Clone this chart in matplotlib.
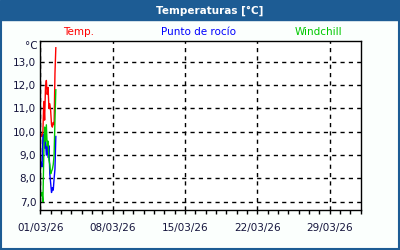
import datetime as dt
import matplotlib
matplotlib.use("Agg")
import matplotlib.pyplot as plt
import matplotlib.dates as mdates
from matplotlib.ticker import FixedLocator
from matplotlib.patches import Rectangle

# hours since 01/03/26 00:00
HOURS = [0, 2, 4, 6, 8, 10, 12, 14, 16, 18, 20, 22, 24, 26, 28, 30, 32, 34, 36]
TEMP = [9.8, 9.9, 9.8, 10.0, 11.3, 10.5, 11.9, 12.2, 11.6, 11.9, 11.0, 11.2,
        10.9, 10.3, 10.2, 10.4, 10.3, 12.5, 13.6]
DEW = [8.6, 8.7, 8.5, 9.8, 9.9, 9.3, 9.6, 9.0, 9.4, 8.9, 9.4, 8.2,
       7.8, 7.4, 7.6, 7.5, 8.0, 8.4, 9.8]
WCHILL = [7.2, 7.3, 7.4, 7.0, 9.0, 10.2, 9.6, 10.3, 9.4, 9.6, 8.8, 8.6,
          8.2, 8.3, 8.4, 8.6, 9.0, 10.5, 11.8]
SERIES = ["Temp.", "Punto de rocío", "Windchill"]
COLORS = ["#ff0000", "#0000ff", "#00c800"]
YTICKS = [7, 8, 9, 10, 11, 12, 13]
MAJOR_DAYS = [1, 8, 15, 22, 29]

FRAME = "#1d5c94"
TXT = "#14143c"
start = dt.datetime(2026, 3, 1)
t = [start + dt.timedelta(hours=h) for h in HOURS]

fig = plt.figure(figsize=(4, 2.5), dpi=100, facecolor="#fbfffd")
fig.patches.append(Rectangle((0, 0.92), 1, 0.08, transform=fig.transFigure,
                             color=FRAME, zorder=0))
fig.patches.append(Rectangle((0.0025, 0.004), 0.995, 0.92, transform=fig.transFigure,
                             fill=False, ec=FRAME, lw=1.5, zorder=0))
fig.text(0.525, 0.958, "Temperaturas [°C]", color="white", fontsize=7.5,
         fontweight="bold", ha="center", va="center")

ax = fig.add_axes([0.1008, 0.16, 0.801, 0.677])
ax.set_facecolor("white")
for vals, c in zip([TEMP, DEW, WCHILL], COLORS):
    ax.plot(t, vals, color=c, lw=1.0)

ax.set_xlim(start, start + dt.timedelta(days=31))
ax.set_ylim(6.65, 13.9)
ax.set_yticks(YTICKS)
ax.set_yticklabels([f"{v:.1f}".replace(".", ",") for v in YTICKS])
ax.xaxis.set_major_locator(FixedLocator(
    [mdates.date2num(dt.datetime(2026, 3, d)) for d in MAJOR_DAYS]))
ax.xaxis.set_major_formatter(mdates.DateFormatter("%d/%m/%y"))
ax.xaxis.set_minor_locator(mdates.DayLocator())
ax.tick_params(axis="x", which="both", direction="out", length=3, width=1,
               colors="black", labelcolor=TXT, labelsize=7.5, pad=6)
ax.tick_params(axis="y", length=0, labelcolor=TXT, labelsize=7.5, pad=3)
ax.grid(True, which="major", color="black", ls=(0, (3, 3)), lw=1.0)
for s in ax.spines.values():
    s.set_color("black")
    s.set_linewidth(1.0)

fig.text(0.078, 0.815, "°C", color=TXT, fontsize=7.5, ha="center", va="center")
for name, c, xpos in zip(SERIES, COLORS, [0.196, 0.496, 0.797]):
    fig.text(xpos, 0.872, name, color=c, fontsize=7.5, ha="center", va="center")

fig.savefig("out.png", dpi=100, facecolor=fig.get_facecolor())
